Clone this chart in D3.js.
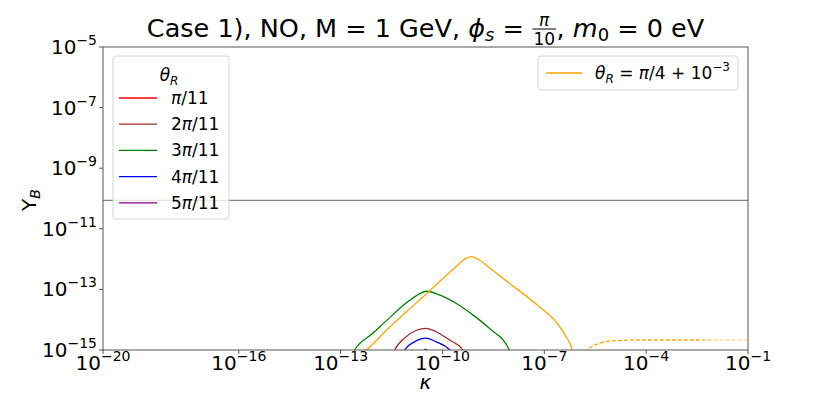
<!DOCTYPE html>
<html>
<head>
<meta charset="utf-8">
<script src="https://cdn.jsdelivr.net/npm/d3@7"></script>
<style>
  body { margin: 0; background: #fff; }
  text { font-family: "DejaVu Sans", sans-serif; white-space: pre; fill: #000; }
</style>
</head>
<body>
<script>
'use strict';

// ticks
const kappaTicks = [1e-20, 1e-16, 1e-13, 1e-10, 1e-7, 1e-4, 1e-1];
const ybTicks = [1e-5, 1e-7, 1e-9, 1e-11, 1e-13, 1e-15];
const ybObserved = 8.7e-11;

// curves (kappa, Y_B)
const kRed = [2.5e-11, 3.3e-11, 4.5e-11];
const yRed = [4e-16, 7e-16, 4e-16];
const kBrown = [3.2e-12, 3.9e-12, 8.5e-12, 1.66e-11, 3.3e-11, 6.5e-11, 1.62e-10, 4.0e-10, 5e-10];
const yBrown = [6e-16, 1e-15, 2.75e-15, 4.4e-15, 5.2e-15, 4.0e-15, 2.14e-15, 1e-15, 6e-16];
const kGreen = [2.0e-13, 2.57e-13, 8.7e-13, 2.75e-12, 8.1e-12, 1.6e-11, 3.4e-11, 8.1e-11, 2.5e-10, 7.8e-10, 2.4e-9, 9.3e-9, 1.1e-8];
const yGreen = [6e-16, 1e-15, 3.5e-15, 1.15e-14, 3.4e-14, 5.9e-14, 8.7e-14, 6.6e-14, 3.5e-14, 1.45e-14, 5.2e-15, 1e-15, 6e-16];
const kBlue = [6.3e-12, 7.6e-12, 1.5e-11, 3.2e-11, 6.5e-11, 1.62e-10, 2e-10];
const yBlue = [6e-16, 1e-15, 1.86e-15, 2.45e-15, 1.86e-15, 1e-15, 6e-16];
const kPurple = [2.2e-11, 3.2e-11, 4.6e-11];
const yPurple = [6e-16, 1.07e-15, 6e-16];
const kOrange = [4e-13, 5.8e-13, 2.75e-12, 8.5e-12, 2.6e-11, 8.1e-11, 2.5e-10, 5.0e-10, 6.9e-10, 1.23e-9, 2.4e-9, 7.4e-9, 7.1e-8, 2.2e-7, 4.4e-7, 6.6e-7, 7.1e-7];
const yOrange = [7e-16, 1e-15, 5.6e-15, 1.8e-14, 5.5e-14, 1.8e-13, 5.6e-13, 1.07e-12, 1.2e-12, 9.3e-13, 5.2e-13, 1.95e-13, 2.7e-14, 8.5e-15, 2.75e-15, 1e-15, 1e-16];
// negative part, drawn dashed as |Y_B|
const kOrangeNeg = [1.6e-6, 1.86e-6, 4.2e-6, 1.02e-5, 6.2e-5, 1.8e-3, 1e-1];
const yOrangeNeg = [5e-16, 1e-15, 1.66e-15, 2.0e-15, 2.14e-15, 2.14e-15, 2.14e-15];

const legendNames = [["π/11"], ["2", "π/11"], ["3", "π/11"], ["4", "π/11"], ["5", "π/11"]];
const legendColors = ["red", "brown", "green", "blue", "purple"];

(function() {

  const W = 831, H = 394;
  const padL = 103, padR = 748, padT = 47, padB = 350;

  const svg = d3.select("body").append("svg")
    .attr("width", W)
    .attr("height", H);

  const x = d3.scaleLog().domain([1e-20, 1e-1]).range([padL, padR]);
  const y = d3.scaleLog().domain([1e-15, 1e-5]).range([padB, padT]);

  // lay out a row of text pieces (normal / italic / sub / sup / fraction)
  function mathText(g, pieces, px, py, anchor, size) {
    let row = g.append("g");
    let cx = 0;
    pieces.forEach(p => {
      if (p.frac) {
        let fs = p.size;
        let num = row.append("text").attr("font-size", fs).attr("font-style", "italic")
          .attr("text-anchor", "middle").text(p.frac[0]);
        let den = row.append("text").attr("font-size", fs)
          .attr("text-anchor", "middle").text(p.frac[1]);
        let w = Math.max(num.node().getComputedTextLength(), den.node().getComputedTextLength()) + 3;
        num.attr("x", cx + w / 2).attr("y", py - 11);
        den.attr("x", cx + w / 2).attr("y", py + 8);
        row.append("line")
          .attr("x1", cx + 0.5).attr("x2", cx + w - 0.5)
          .attr("y1", py - 8).attr("y2", py - 8)
          .attr("stroke", "#000").attr("stroke-width", 1);
        cx += w;
        return;
      }
      let t = row.append("text")
        .attr("x", cx)
        .attr("y", py + (p.dy || 0))
        .attr("font-size", p.size || size)
        .attr("font-style", p.it ? "italic" : "normal")
        .text(p.t);
      cx += t.node().getComputedTextLength();
    });
    let shift = anchor === "middle" ? -cx / 2 : anchor === "end" ? -cx : 0;
    row.attr("transform", "translate(" + (px + shift) + ",0)");
    return row;
  }

  // title
  mathText(svg, [
    { t: "Case 1), NO, M = 1 GeV, " },
    { t: "ϕ", it: true },
    { t: "s", it: true, size: 18, dy: 4 },
    { t: " = " },
    { frac: ["π", "10"], size: 17 },
    { t: ", " },
    { t: "m", it: true },
    { t: "0", size: 18, dy: 4 },
    { t: " = 0 eV" }
  ], (padL + padR) / 2, 37, "middle", 25.5);

  // clip for curves
  let defs = svg.append("defs");
  defs.append("clipPath").attr("id", "plotClip")
    .append("rect")
    .attr("x", padL).attr("y", padT)
    .attr("width", padR - padL).attr("height", padB - padT);

  // fading stroke for the dashed tail
  let grad = defs.append("linearGradient")
    .attr("id", "fade")
    .attr("gradientUnits", "userSpaceOnUse")
    .attr("x1", x(1e-5)).attr("x2", x(1e-1))
    .attr("y1", 0).attr("y2", 0);
  grad.append("stop").attr("offset", "0").attr("stop-color", "orange").attr("stop-opacity", 1);
  grad.append("stop").attr("offset", "0.6").attr("stop-color", "orange").attr("stop-opacity", 1);
  grad.append("stop").attr("offset", "0.75").attr("stop-color", "orange").attr("stop-opacity", 0.45);
  grad.append("stop").attr("offset", "1").attr("stop-color", "orange").attr("stop-opacity", 0.35);

  let plot = svg.append("g").attr("clip-path", "url(#plotClip)");

  // observed value line
  plot.append("line")
    .attr("x1", padL).attr("x2", padR)
    .attr("y1", y(ybObserved)).attr("y2", y(ybObserved))
    .attr("stroke", "#808080")
    .attr("stroke-width", 1.2);

  let line = d3.line()
    .x(d => x(d[0]))
    .y(d => y(d[1]))
    .curve(d3.curveMonotoneX);

  function drawCurve(ks, ys, color, dash) {
    let path = plot.append("path")
      .datum(d3.zip(ks, ys))
      .attr("d", line)
      .attr("fill", "none")
      .attr("stroke", color)
      .attr("stroke-width", 1.3);
    if (dash) path.attr("stroke-dasharray", dash);
    return path;
  }

  drawCurve(kRed, yRed, "red");
  drawCurve(kBrown, yBrown, "brown");
  drawCurve(kGreen, yGreen, "green");
  drawCurve(kBlue, yBlue, "blue");
  drawCurve(kPurple, yPurple, "purple");
  drawCurve(kOrange, yOrange, "orange");
  drawCurve(kOrangeNeg, yOrangeNeg, "url(#fade)", "4,2");

  // frame
  svg.append("rect")
    .attr("x", padL).attr("y", padT)
    .attr("width", padR - padL).attr("height", padB - padT)
    .attr("fill", "none")
    .attr("stroke", "#555")
    .attr("stroke-width", 1);

  // x ticks
  kappaTicks.forEach(k => {
    let px = x(k);
    svg.append("line").attr("x1", px).attr("x2", px)
      .attr("y1", padB).attr("y2", padB + 4)
      .attr("stroke", "#555");
    let e = Math.round(Math.log10(k));
    mathText(svg, [{ t: "10" }, { t: "−" + (-e), size: 14, dy: -9 }], px, padB + 20, "middle", 20);
  });

  // y ticks
  ybTicks.forEach(v => {
    let py = y(v);
    svg.append("line").attr("x1", padL - 4).attr("x2", padL)
      .attr("y1", py).attr("y2", py)
      .attr("stroke", "#555");
    let e = Math.round(Math.log10(v));
    mathText(svg, [{ t: "10" }, { t: "−" + (-e), size: 14, dy: -9 }], padL - 6, py + 7, "end", 20);
  });

  // axis labels
  mathText(svg, [{ t: "κ", it: true }], (padL + padR) / 2, 389, "middle", 20);
  let yl = svg.append("g").attr("transform", "translate(36,200) rotate(-90)");
  mathText(yl, [{ t: "Y" }, { t: "B", it: true, size: 14, dy: 4 }], 0, 0, "middle", 20);

  // legend for theta_R curves
  let leg1 = svg.append("g");
  leg1.append("rect")
    .attr("x", 113).attr("y", 56)
    .attr("width", 116).attr("height", 163)
    .attr("rx", 3)
    .attr("fill", "#fff").attr("fill-opacity", 0.8)
    .attr("stroke", "#d6d6d6");
  mathText(leg1, [{ t: "θ", it: true }, { t: "R", it: true, size: 12, dy: 4 }], 169, 81, "middle", 17);
  legendNames.forEach((name, i) => {
    let cy = 98 + i * 26.2;
    leg1.append("line")
      .attr("x1", 119).attr("x2", 157)
      .attr("y1", cy).attr("y2", cy)
      .attr("stroke", legendColors[i]).attr("stroke-width", 1.3);
    let pieces = name.length === 1
      ? [{ t: "π", it: true }, { t: "/11" }]
      : [{ t: name[0] }, { t: "π", it: true }, { t: "/11" }];
    mathText(leg1, pieces, 171, cy + 6, "start", 17);
  });

  // legend for the orange curve
  let leg2 = svg.append("g");
  leg2.append("rect")
    .attr("x", 538).attr("y", 56)
    .attr("width", 200).attr("height", 34)
    .attr("rx", 3)
    .attr("fill", "#fff").attr("fill-opacity", 0.8)
    .attr("stroke", "#d6d6d6");
  leg2.append("line")
    .attr("x1", 546).attr("x2", 582)
    .attr("y1", 73).attr("y2", 73)
    .attr("stroke", "orange").attr("stroke-width", 1.3);
  mathText(leg2, [
    { t: "θ", it: true },
    { t: "R", it: true, size: 12, dy: 4 },
    { t: " = " },
    { t: "π", it: true },
    { t: "/4 + 10" },
    { t: "−3", size: 12, dy: -8 }
  ], 595, 79, "start", 17);

})();
</script>
</body>
</html>
